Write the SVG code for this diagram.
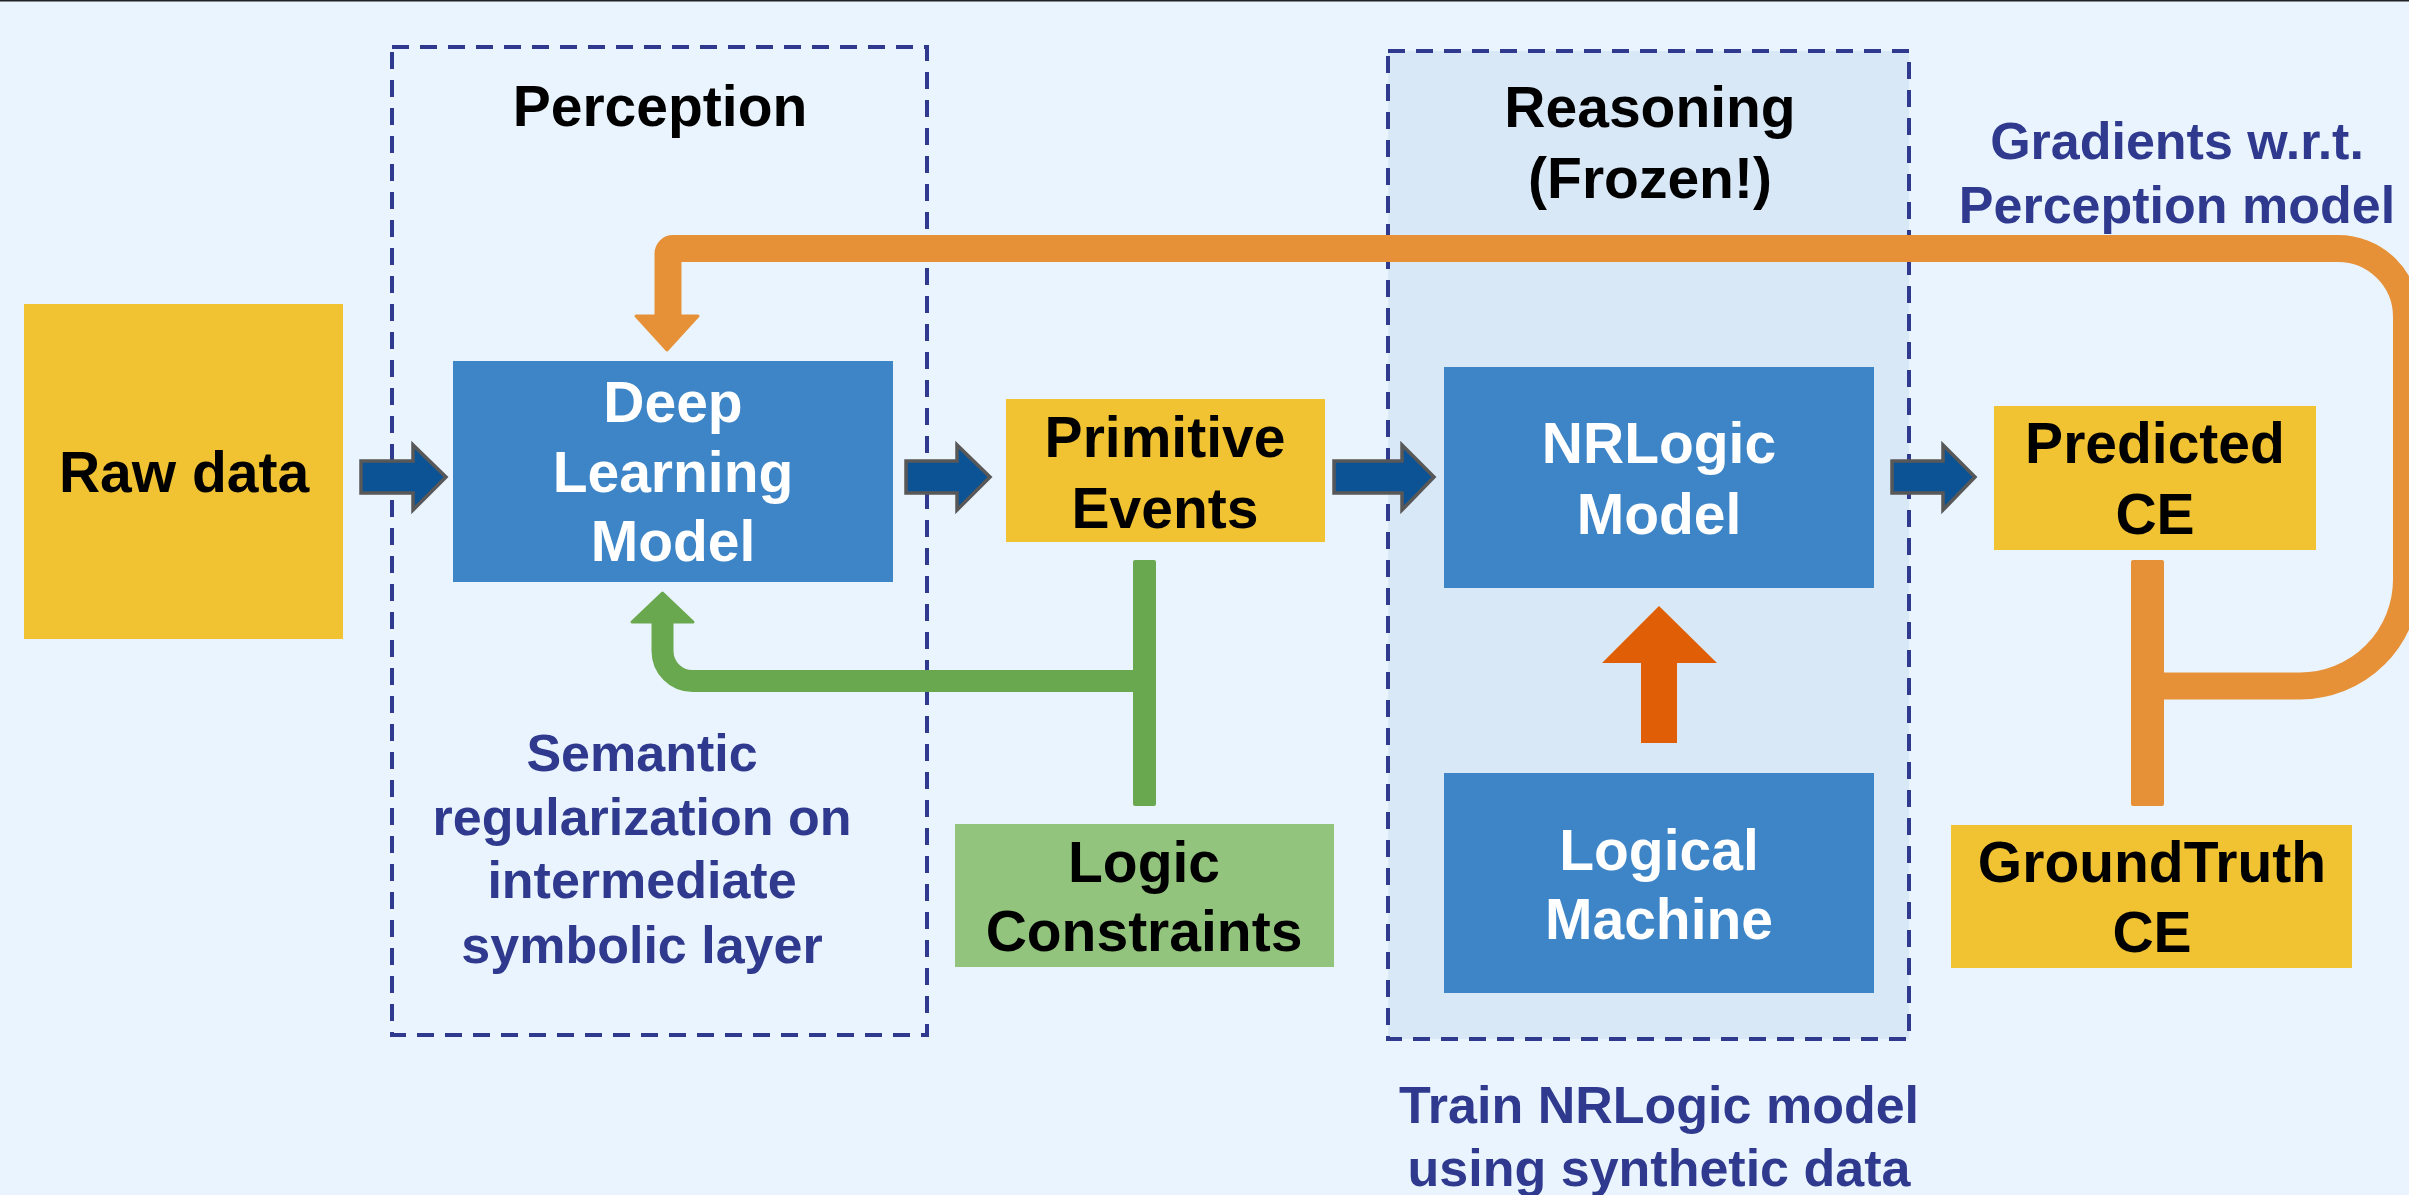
<svg xmlns="http://www.w3.org/2000/svg" width="2409" height="1195" viewBox="0 0 2409 1195">
  <defs>
    <style>
      text { font-family: "Liberation Sans", Arial, sans-serif; font-weight: bold; text-anchor: middle; }
      .t57 { font-size: 57px; }
      .dark { fill: #000000; }
      .white { fill: #ffffff; }
      .navy { fill: #2f3a8f; font-size: 52px; }
      .yellow { fill: #f1c232; }
      .blue { fill: #3d85c6; }
      .green { fill: #93c47d; }
      .group { stroke: #2f3a8f; stroke-width: 4; stroke-dasharray: 17 11; }
      .barrow { fill: #0b5394; stroke: #585858; stroke-width: 3.5; stroke-linejoin: miter; }
      .orange { fill: none; stroke: #e69138; stroke-width: 27; }
      .greenln { fill: none; stroke: #6aa84f; stroke-width: 22; }
    </style>
  </defs>

  <rect x="0" y="0" width="2409" height="1195" fill="#eaf4fe"/>
  <rect x="0" y="0" width="2409" height="1.5" fill="#222222"/>

  <g id="perception-group">
    <rect class="group" x="392" y="47" width="535" height="988" fill="none"/>
    <text class="t57 dark" x="660" y="126">Perception</text>
  </g>

  <g id="reasoning-group">
    <rect class="group" x="1388" y="51" width="521" height="988" fill="#d9e8f6"/>
    <text class="t57 dark" x="1650" y="127">Reasoning</text>
    <text class="t57 dark" x="1650" y="198">(Frozen!)</text>
  </g>

  <g id="connectors">
    <!-- block arrows -->
    <path class="barrow" d="M361,461 H413 V445 L446,477 L413,510 V493 H361 Z"/>
    <path class="barrow" d="M906,461 H957 V445 L990,477 L957,510 V493 H906 Z"/>
    <path class="barrow" d="M1334,461 H1402 V445 L1434,477 L1402,510 V493 H1334 Z"/>
    <path class="barrow" d="M1892,461 H1943 V445 L1975,477 L1943,510 V493 H1892 Z"/>
    <!-- green semantic regularization -->
    <path class="greenln" d="M1144.5,681 H692.5 A30,30 0 0 1 662.5,651 V620"/>
    <polygon fill="#6aa84f" stroke="#6aa84f" stroke-width="3" stroke-linejoin="round" points="632,622 693,622 662.5,593"/>
    <rect x="1133" y="560" width="23" height="246" rx="2" fill="#6aa84f"/>
    <!-- orange gradient feedback -->
    <path class="orange" d="M2147,686 H2300 A106.5,106.5 0 0 0 2406.5,579.5 V317 A68.5,68.5 0 0 0 2338,248.5 H673 A5,5 0 0 0 668,253.5 V318"/>
    <polygon fill="#e69138" stroke="#e69138" stroke-width="3" stroke-linejoin="round" points="636,316 698,316 667,350"/>
    <rect x="2131" y="560" width="33" height="246" rx="2" fill="#e69138"/>
    <!-- training arrow -->
    <polygon fill="#e05e05" points="1641,743 1677,743 1677,663 1717,663 1659,606 1602,663 1641,663"/>
  </g>

  <g id="raw-data">
    <rect class="yellow" x="24" y="304" width="319" height="335"/>
    <text class="t57 dark" x="184" y="492">Raw data</text>
  </g>

  <g id="deep-learning-model">
    <rect class="blue" x="453" y="361" width="440" height="221"/>
    <text class="t57 white" x="673" y="422">Deep</text>
    <text class="t57 white" x="673" y="492">Learning</text>
    <text class="t57 white" x="673" y="561">Model</text>
  </g>

  <g id="primitive-events">
    <rect class="yellow" x="1006" y="399" width="319" height="143"/>
    <text class="t57 dark" x="1165" y="457">Primitive</text>
    <text class="t57 dark" x="1165" y="528">Events</text>
  </g>

  <g id="logic-constraints">
    <rect class="green" x="955" y="824" width="379" height="143"/>
    <text class="t57 dark" x="1144" y="882">Logic</text>
    <text class="t57 dark" x="1144" y="951">Constraints</text>
  </g>

  <g id="nrlogic-model">
    <rect class="blue" x="1444" y="367" width="430" height="221"/>
    <text class="t57 white" x="1659" y="463">NRLogic</text>
    <text class="t57 white" x="1659" y="534">Model</text>
  </g>

  <g id="logical-machine">
    <rect class="blue" x="1444" y="773" width="430" height="220"/>
    <text class="t57 white" x="1659" y="870">Logical</text>
    <text class="t57 white" x="1659" y="939">Machine</text>
  </g>

  <g id="predicted-ce">
    <rect class="yellow" x="1994" y="406" width="322" height="144"/>
    <text class="t57 dark" x="2155" y="463">Predicted</text>
    <text class="t57 dark" x="2155" y="534">CE</text>
  </g>

  <g id="groundtruth-ce">
    <rect class="yellow" x="1951" y="825" width="401" height="143"/>
    <text class="t57 dark" x="2152" y="882">GroundTruth</text>
    <text class="t57 dark" x="2152" y="952">CE</text>
  </g>

  <g id="labels">
    <text class="navy" x="2177" y="159">Gradients w.r.t.</text>
    <text class="navy" x="2177" y="223">Perception model</text>
    <text class="navy" x="642" y="771">Semantic</text>
    <text class="navy" x="642" y="835">regularization on</text>
    <text class="navy" x="642" y="898">intermediate</text>
    <text class="navy" x="642" y="963">symbolic layer</text>
    <text class="navy" x="1659" y="1123">Train NRLogic model</text>
    <text class="navy" x="1659" y="1186">using synthetic data</text>
  </g>
</svg>
